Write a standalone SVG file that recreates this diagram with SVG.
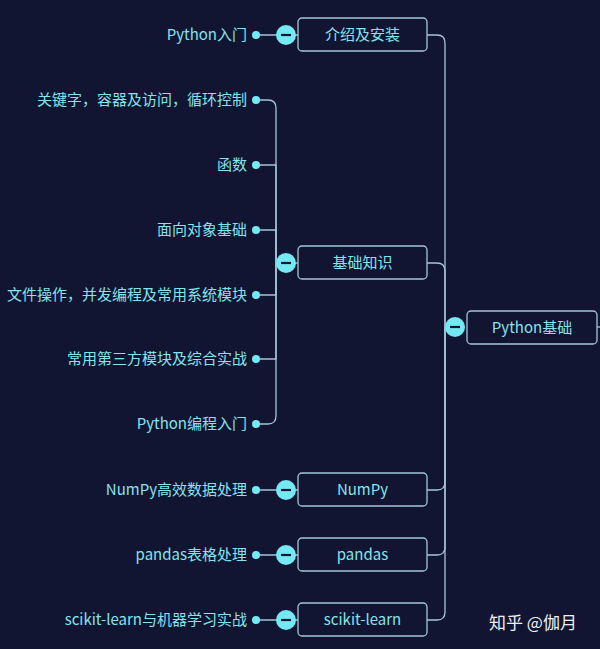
<svg xmlns="http://www.w3.org/2000/svg" width="600" height="649" viewBox="0 0 600 649">
<style>
.bg{fill:#111532}
.box{fill:#111532;stroke:#a3c6d9;stroke-width:1.3}
.ln{fill:none;stroke:#a3c6d9;stroke-width:1.3}
.t{font-family:"Noto Sans CJK SC","Noto Sans",sans-serif;font-size:15px;fill:#86e3ec}
.lt{text-anchor:end}
.ct{text-anchor:middle}
.dot{fill:#74e9f2}
.col{fill:#74e9f2}
.minus{stroke:#111532;stroke-width:2.2}
.wm{font-family:"Noto Sans CJK SC",sans-serif;font-size:17px;fill:#eef0f4}
</style>
<rect class="bg" x="0" y="0" width="600" height="649"/>
<g id="connectors">
  <path class="ln" d="M597 327 L600 327"/>
  <path class="ln" d="M445 327 L445 43 Q445 35 437 35 L427 35"/>
  <path class="ln" d="M445 327 L445 271 Q445 263 437 263 L427 263"/>
  <path class="ln" d="M445 327 L445 482 Q445 490 437 490 L427 490"/>
  <path class="ln" d="M445 327 L445 547 Q445 555 437 555 L427 555"/>
  <path class="ln" d="M445 327 L445 612 Q445 620 437 620 L427 620"/>
  <path class="ln" d="M256 35 L298 35"/>
  <path class="ln" d="M256 490 L298 490"/>
  <path class="ln" d="M256 555 L298 555"/>
  <path class="ln" d="M256 620 L298 620"/>
  <path class="ln" d="M276 263 L298 263"/>
  <path class="ln" d="M276 263 L276 108 Q276 100 268 100 L256 100"/>
  <path class="ln" d="M276 263 L276 165 L256 165"/>
  <path class="ln" d="M276 263 L276 230 L256 230"/>
  <path class="ln" d="M276 263 L276 295 L256 295"/>
  <path class="ln" d="M276 263 L276 359 L256 359"/>
  <path class="ln" d="M276 263 L276 416 Q276 424 268 424 L256 424"/>
</g>
<g id="root">
  <rect class="box" x="467" y="311" width="130" height="33" rx="4"/>
  <text class="t ct" x="532" y="333">Python基础</text>
  <circle class="col" cx="455" cy="327" r="10"/>
  <line class="minus" x1="450" y1="327" x2="460" y2="327"/>
</g>
<g id="n-intro">
  <rect class="box" x="298" y="18" width="129" height="33" rx="4"/>
  <text class="t ct" x="362.5" y="40">介绍及安装</text>
  <circle class="col" cx="286" cy="35" r="10"/>
  <line class="minus" x1="281" y1="35" x2="291" y2="35"/>
</g>
<g id="n-basic">
  <rect class="box" x="298" y="246" width="129" height="33" rx="4"/>
  <text class="t ct" x="362.5" y="268">基础知识</text>
  <circle class="col" cx="286" cy="263" r="10"/>
  <line class="minus" x1="281" y1="263" x2="291" y2="263"/>
</g>
<g id="n-numpy">
  <rect class="box" x="298" y="473" width="129" height="33" rx="4"/>
  <text class="t ct" x="362.5" y="495">NumPy</text>
  <circle class="col" cx="286" cy="490" r="10"/>
  <line class="minus" x1="281" y1="490" x2="291" y2="490"/>
</g>
<g id="n-pandas">
  <rect class="box" x="298" y="538" width="129" height="33" rx="4"/>
  <text class="t ct" x="362.5" y="560">pandas</text>
  <circle class="col" cx="286" cy="555" r="10"/>
  <line class="minus" x1="281" y1="555" x2="291" y2="555"/>
</g>
<g id="n-sklearn">
  <rect class="box" x="298" y="603" width="129" height="33" rx="4"/>
  <text class="t ct" x="362.5" y="625">scikit-learn</text>
  <circle class="col" cx="286" cy="620" r="10"/>
  <line class="minus" x1="281" y1="620" x2="291" y2="620"/>
</g>
<g id="l-intro"><circle class="dot" cx="256" cy="35" r="4"/><text class="t lt" x="247" y="40">Python入门</text></g>
<g id="l-kw"><circle class="dot" cx="256" cy="100" r="4"/><text class="t lt" x="247" y="105">关键字，容器及访问，循环控制</text></g>
<g id="l-func"><circle class="dot" cx="256" cy="165" r="4"/><text class="t lt" x="247" y="170">函数</text></g>
<g id="l-oop"><circle class="dot" cx="256" cy="230" r="4"/><text class="t lt" x="247" y="235">面向对象基础</text></g>
<g id="l-file"><circle class="dot" cx="256" cy="295" r="4"/><text class="t lt" x="247" y="300">文件操作，并发编程及常用系统模块</text></g>
<g id="l-third"><circle class="dot" cx="256" cy="359" r="4"/><text class="t lt" x="247" y="364">常用第三方模块及综合实战</text></g>
<g id="l-prog"><circle class="dot" cx="256" cy="424" r="4"/><text class="t lt" x="247" y="429">Python编程入门</text></g>
<g id="l-numpy"><circle class="dot" cx="256" cy="490" r="4"/><text class="t lt" x="247" y="495">NumPy高效数据处理</text></g>
<g id="l-pandas"><circle class="dot" cx="256" cy="555" r="4"/><text class="t lt" x="247" y="560">pandas表格处理</text></g>
<g id="l-sklearn"><circle class="dot" cx="256" cy="620" r="4"/><text class="t lt" x="247" y="625">scikit-learn与机器学习实战</text></g>
<text class="wm" x="489" y="629">知乎 @伽月</text>
</svg>
